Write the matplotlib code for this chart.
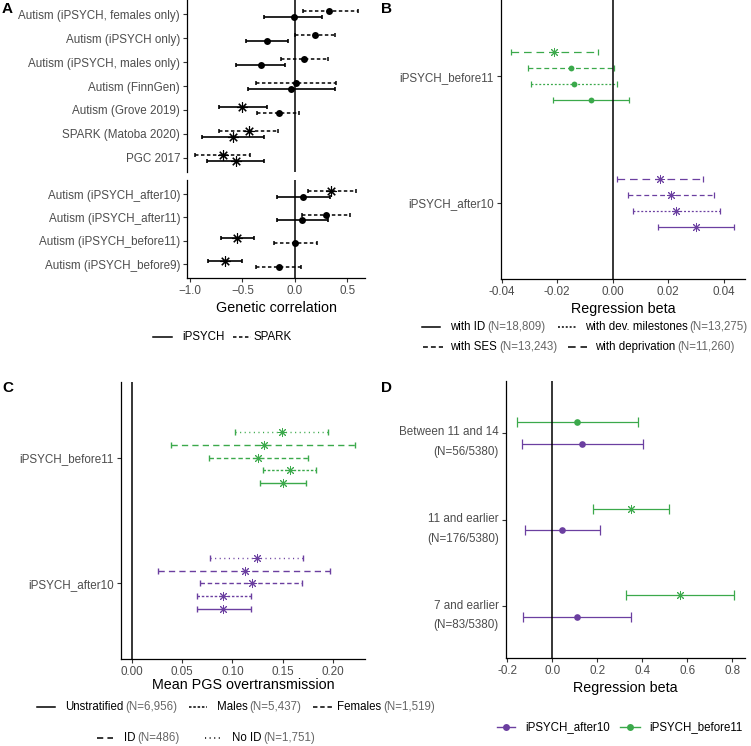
import matplotlib
matplotlib.use('Agg')
import matplotlib.pyplot as plt
from matplotlib.lines import Line2D
from matplotlib.transforms import ScaledTranslation

plt.rcParams['font.family'] = ['Liberation Sans', 'DejaVu Sans']
plt.rcParams['lines.scale_dashes'] = False

# ---------------- data ----------------
# Panel A (rows listed top to bottom)
a_top_labels = ["Autism (iPSYCH, females only)", "Autism (iPSYCH only)", "Autism (iPSYCH, males only)",
                "Autism (FinnGen)", "Autism (Grove 2019)", "SPARK (Matoba 2020)", "PGC 2017"]
a_top_ipsych_rg = [-0.01, -0.27, -0.32, -0.04, -0.50, -0.59, -0.56]
a_top_ipsych_lo = [-0.29, -0.47, -0.56, -0.45, -0.72, -0.89, -0.84]
a_top_ipsych_hi = [0.26, -0.07, -0.09, 0.38, -0.27, -0.29, -0.29]
a_top_ipsych_sig = [False, False, False, False, True, True, True]
a_top_spark_rg = [0.33, 0.19, 0.09, 0.01, -0.15, -0.44, -0.69]
a_top_spark_lo = [0.08, 0.00, -0.13, -0.37, -0.36, -0.72, -0.95]
a_top_spark_hi = [0.60, 0.38, 0.32, 0.39, 0.04, -0.16, -0.43]
a_top_spark_sig = [False, False, False, False, False, True, True]

a_bot_labels = ["Autism (iPSYCH_after10)", "Autism (iPSYCH_after11)",
                "Autism (iPSYCH_before11)", "Autism (iPSYCH_before9)"]
a_bot_ipsych_rg = [0.08, 0.07, -0.55, -0.67]
a_bot_ipsych_lo = [-0.17, -0.17, -0.71, -0.83]
a_bot_ipsych_hi = [0.34, 0.32, -0.39, -0.50]
a_bot_ipsych_sig = [False, False, True, True]
a_bot_spark_rg = [0.35, 0.30, 0.00, -0.15]
a_bot_spark_lo = [0.13, 0.07, -0.20, -0.37]
a_bot_spark_hi = [0.58, 0.53, 0.21, 0.06]
a_bot_spark_sig = [True, False, False, False]
a_ticks = [-1.0, -0.5, 0.0, 0.5]

# Panel B
b_groups = ["iPSYCH_after10", "iPSYCH_before11"]          # bottom to top
b_models = ["with ID", "with dev. milestones", "with SES", "with deprivation"]
b_model_n = ["(N=18,809)", "(N=13,275)", "(N=13,243)", "(N=11,260)"]
b_after10_beta = [0.0299, 0.0229, 0.0210, 0.0170]
b_after10_lo = [0.0162, 0.0074, 0.0054, 0.0014]
b_after10_hi = [0.0436, 0.0386, 0.0366, 0.0326]
b_after10_sig = [True, True, True, True]
b_before11_beta = [-0.0079, -0.0139, -0.0150, -0.0210]
b_before11_lo = [-0.0216, -0.0295, -0.0306, -0.0367]
b_before11_hi = [0.0058, 0.0017, 0.0006, -0.0052]
b_before11_sig = [False, False, False, True]
b_ticks = [-0.04, -0.02, 0.00, 0.02, 0.04]

# Panel C
c_groups = ["iPSYCH_after10", "iPSYCH_before11"]
c_strata = ["Unstratified", "Males", "Females", "ID", "No ID"]
c_strata_n = ["(N=6,956)", "(N=5,437)", "(N=1,519)", "(N=486)", "(N=1,751)"]
c_after10_mean = [0.091, 0.091, 0.119, 0.112, 0.124]
c_after10_lo = [0.0645, 0.0645, 0.068, 0.026, 0.078]
c_after10_hi = [0.118, 0.118, 0.169, 0.197, 0.170]
c_before11_mean = [0.150, 0.157, 0.125, 0.131, 0.149]
c_before11_lo = [0.127, 0.130, 0.0765, 0.039, 0.103]
c_before11_hi = [0.173, 0.183, 0.175, 0.222, 0.195]
c_ticks = [0.00, 0.05, 0.10, 0.15, 0.20]

# Panel D
d_cats = ["7 and earlier\n(N=83/5380)", "11 and earlier\n(N=176/5380)", "Between 11 and 14\n(N=56/5380)"]
d_after10_beta = [0.108, 0.044, 0.130]
d_after10_lo = [-0.129, -0.121, -0.136]
d_after10_hi = [0.348, 0.213, 0.404]
d_after10_sig = [False, False, False]
d_before11_beta = [0.568, 0.350, 0.111]
d_before11_lo = [0.326, 0.182, -0.158]
d_before11_hi = [0.808, 0.519, 0.382]
d_before11_sig = [True, True, False]
d_ticks = [-0.2, 0.0, 0.2, 0.4, 0.6, 0.8]

# ---------------- style ----------------
GREEN = '#3BA94B'
PURPLE = '#6B3FA0'
TICKCOL = '#4D4D4D'
NCOL = '#666666'
ASTER = (8, 2, 0)
TFS = 8.4

W, H = 751, 746
fig = plt.figure(figsize=(W / 100, H / 100), dpi=100)


def ax_px(x0, y0, x1, y1):
    return fig.add_axes([x0 / W, 1 - y1 / H, (x1 - x0) / W, (y1 - y0) / H])


def style_ax(ax, xbottom=True):
    for s in ['top', 'right']:
        ax.spines[s].set_visible(False)
    ax.spines['left'].set_linewidth(0.9)
    ax.spines['bottom'].set_linewidth(0.9)
    if not xbottom:
        ax.spines['bottom'].set_visible(False)
        ax.tick_params(axis='x', bottom=False, labelbottom=False)
    ax.tick_params(axis='both', length=3, width=0.8, color='#333333',
                   labelsize=TFS, labelcolor=TICKCOL, pad=2)


def bar(ax, lo, hi, y, val, sig, color, ls, lw, cap, msz_dot, msz_star, star_mew=0.7):
    ax.plot([lo, hi], [y, y], color=color, lw=lw, linestyle=ls, solid_capstyle='butt')
    ax.plot([lo, hi], [y, y], color=color, ls='none', marker='|', ms=cap, mew=lw)
    if sig:
        ax.plot([val], [y], ls='none', marker=ASTER, ms=msz_star, mec=color, mew=star_mew)
    else:
        ax.plot([val], [y], ls='none', marker='o', ms=msz_dot, mfc=color, mec=color, mew=0)


A_SPARK_LS = (0, (2.5, 1.8))


def panel_a(ax, labels, irg, ilo, ihi, isig, srg, slo, shi, ssig):
    n = len(labels)
    d = 0.12
    for i in range(n):
        y = n - i
        if isig[i] != ssig[i]:
            spark_up = ssig[i]
        else:
            spark_up = True
        ys = y + d if spark_up else y - d
        yi = y - d if spark_up else y + d
        bar(ax, slo[i], shi[i], ys, srg[i], ssig[i], 'black', A_SPARK_LS, 1.1, 3, 5, 7.5, 0.8)
        bar(ax, ilo[i], ihi[i], yi, irg[i], isig[i], 'black', '-', 1.2, 3, 5, 7.5, 0.8)
    ax.axvline(0, color='black', lw=1.1)
    ax.set_ylim(0.4, n + 0.6)
    ax.set_yticks(range(n, 0, -1))
    ax.set_yticklabels(labels)
    ax.set_xlim(-1.03, 0.67)
    ax.set_xticks(a_ticks)


axA1 = ax_px(187, 0, 365, 172)
style_ax(axA1, xbottom=False)
panel_a(axA1, a_top_labels, a_top_ipsych_rg, a_top_ipsych_lo, a_top_ipsych_hi, a_top_ipsych_sig,
        a_top_spark_rg, a_top_spark_lo, a_top_spark_hi, a_top_spark_sig)
axA2 = ax_px(187, 180, 365, 278)
style_ax(axA2)
panel_a(axA2, a_bot_labels, a_bot_ipsych_rg, a_bot_ipsych_lo, a_bot_ipsych_hi, a_bot_ipsych_sig,
        a_bot_spark_rg, a_bot_spark_lo, a_bot_spark_hi, a_bot_spark_sig)
axA2.set_xlabel("Genetic correlation", fontsize=10.3, labelpad=3)

# Panel B
B_LS = ['-', (0, (1.4, 1.4)), (0, (3.5, 2.2)), (0, (5.5, 3.5))]
axB = ax_px(500.7, 0, 745, 279)
style_ax(axB)
b_off = [-0.1875, -0.0625, 0.0625, 0.1875]
for gi, (beta, lo, hi, sig, col) in enumerate([
        (b_after10_beta, b_after10_lo, b_after10_hi, b_after10_sig, PURPLE),
        (b_before11_beta, b_before11_lo, b_before11_hi, b_before11_sig, GREEN)]):
    for k in range(len(b_models)):
        bar(axB, lo[k], hi[k], gi + 1 + b_off[k], beta[k], sig[k], col, B_LS[k], 0.9, 4.5, 4.2, 6.5)
axB.axvline(0, color='black', lw=1.1)
axB.set_ylim(0.4, 2.6)
axB.set_yticks([1, 2])
axB.set_yticklabels(b_groups)
axB.set_xlim(-0.0403, 0.0476)
axB.set_xticks(b_ticks)
axB.set_xticklabels(['%.2f' % t if t != 0 else '0.00' for t in b_ticks])
axB.set_xlabel("Regression beta", fontsize=10.3, labelpad=3)

# Panel C
C_LS = ['-', (0, (1.8, 1.3)), (0, (3.2, 2.0)), (0, (4.5, 3.0)), (0, (0.8, 2.5))]
axC = ax_px(120.7, 382, 365, 659)
style_ax(axC)
c_off = [-0.2, -0.1, 0.0, 0.1, 0.2]
for gi, (m, lo, hi, col) in enumerate([
        (c_after10_mean, c_after10_lo, c_after10_hi, PURPLE),
        (c_before11_mean, c_before11_lo, c_before11_hi, GREEN)]):
    for k in range(len(c_strata)):
        bar(axC, lo[k], hi[k], gi + 1 + c_off[k], m[k], True, col, C_LS[k], 1.0, 4, 4.2, 6.5)
axC.axvline(0, color='black', lw=1.1)
axC.set_ylim(0.4, 2.6)
axC.set_yticks([1, 2])
axC.set_yticklabels(c_groups)
axC.set_xlim(-0.0113, 0.232)
axC.set_xticks(c_ticks)
axC.set_xticklabels(['%.2f' % t for t in c_ticks])
axC.set_xlabel("Mean PGS overtransmission", fontsize=10.3, labelpad=0)

# Panel D
axD = ax_px(505.7, 381, 745, 658.3)
style_ax(axD)
for k in range(len(d_cats)):
    bar(axD, d_before11_lo[k], d_before11_hi[k], k + 1 + 0.125, d_before11_beta[k], d_before11_sig[k],
        GREEN, '-', 0.9, 7, 4.8, 6.5)
    bar(axD, d_after10_lo[k], d_after10_hi[k], k + 1 - 0.125, d_after10_beta[k], d_after10_sig[k],
        PURPLE, '-', 0.9, 7, 4.8, 6.5)
axD.axvline(0, color='black', lw=1.1)
axD.set_ylim(0.4, 3.6)
axD.set_yticks([1, 2, 3])
axD.set_yticklabels(d_cats, va='top', linespacing=1.85)
off = ScaledTranslation(0, 4.8 / 72, fig.dpi_scale_trans)
for lab in axD.get_yticklabels():
    lab.set_transform(lab.get_transform() + off)
axD.set_xlim(-0.207, 0.856)
axD.set_xticks(d_ticks)
axD.set_xticklabels(['%.1f' % t for t in d_ticks])
axD.set_xlabel("Regression beta", fontsize=10.3, labelpad=3)

# ---------------- legends (manual, figure pixel coords) ----------------
renderer = fig.canvas.get_renderer()
LFS = 8.3


def leg(x0, x1, y, ls, label, lx, n=None, color='black', lw=1.1, marker=None):
    fy = 1 - y / H
    fig.add_artist(Line2D([x0 / W, x1 / W], [fy, fy], transform=fig.transFigure,
                          color=color, lw=lw, linestyle=ls))
    if marker:
        fig.add_artist(Line2D([(x0 + x1) / 2 / W], [fy], transform=fig.transFigure,
                              color=color, ls='none', marker=marker, ms=5, mew=0))
    t = fig.text(lx / W, fy, label, fontsize=LFS, va='center', ha='left', color='black')
    if n:
        bb = t.get_window_extent(renderer)
        fig.text((bb.x1 + 2) / W, fy, n, fontsize=LFS, va='center', ha='left', color=NCOL)


# A legend
leg(153, 172, 337, '-', 'iPSYCH', 182)
leg(233, 251, 337, A_SPARK_LS, 'SPARK', 254)
# B legend
leg(422, 440, 327, B_LS[0], b_models[0], 450, b_model_n[0])
leg(558, 577, 327, B_LS[1], b_models[1], 585, b_model_n[1])
leg(423, 443, 347, B_LS[2], b_models[2], 450, b_model_n[2])
leg(568, 587, 347, B_LS[3], b_models[3], 595, b_model_n[3])
# C legend
leg(37, 55, 707, C_LS[0], c_strata[0], 65, c_strata_n[0])
leg(189, 207, 707, C_LS[1], c_strata[1], 217, c_strata_n[1])
leg(313, 332, 707, C_LS[2], c_strata[2], 337, c_strata_n[2])
leg(97, 113, 738, C_LS[3], c_strata[3], 124, c_strata_n[3])
leg(205, 222, 738, C_LS[4], c_strata[4], 232, c_strata_n[4])
# D legend
leg(497, 515, 727, '-', 'iPSYCH_after10', 525, color=PURPLE, lw=1.0, marker='o')
leg(620, 640, 727, '-', 'iPSYCH_before11', 649, color=GREEN, lw=1.0, marker='o')

# panel tags
for tag, x, y in [('A', 2, 9), ('B', 381, 9), ('C', 2, 388), ('D', 381, 388)]:
    fig.text(x / W, 1 - y / H, tag, fontsize=11, fontweight='bold', va='center', ha='left')

fig.savefig('out.png', dpi=100)
